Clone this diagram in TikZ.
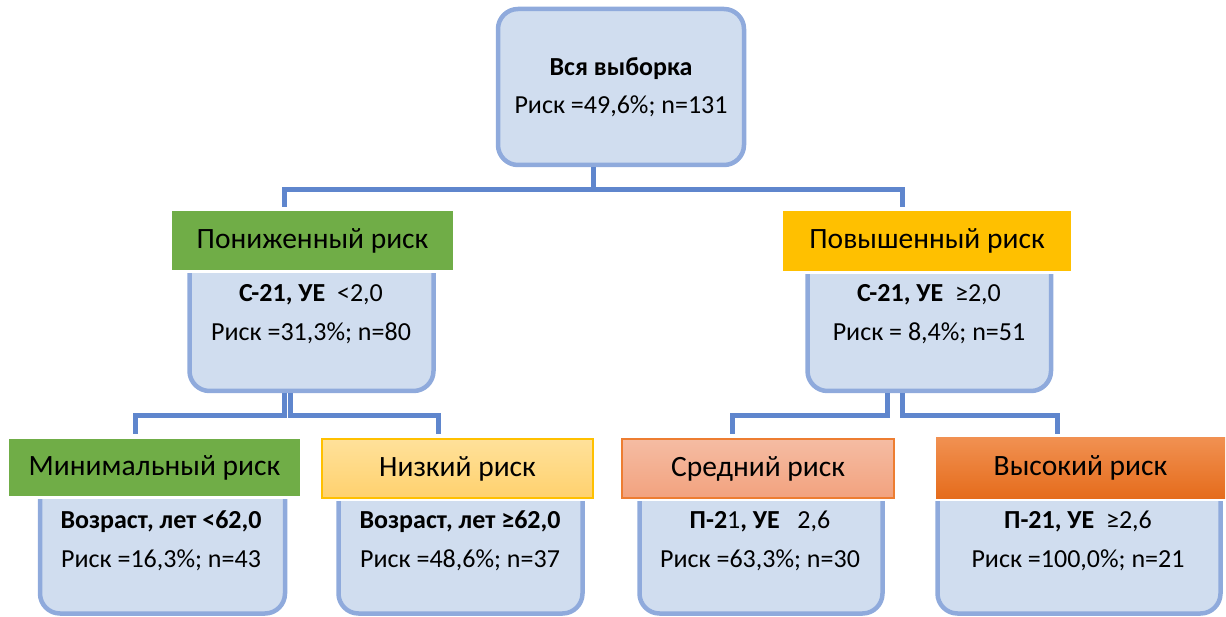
\documentclass[tikz,border=0pt]{standalone}
\usepackage{fontspec}
\setmainfont{Carlito}
\usepackage{tikz}
\usetikzlibrary{positioning}
\definecolor{boxfill}{HTML}{D0DDEF}
\definecolor{boxline}{HTML}{8FAADC}
\definecolor{linkblue}{HTML}{5F86CD}
\definecolor{lowgreen}{HTML}{70AD47}
\definecolor{highyellow}{HTML}{FFC000}
\definecolor{edgeorange}{HTML}{ED7D31}
\definecolor{nizktop}{HTML}{FFE19A}
\definecolor{nizkbot}{HTML}{FFD16E}
\definecolor{sredntop}{HTML}{F5BCA3}
\definecolor{srednbot}{HTML}{F2A27E}
\definecolor{vysoktop}{HTML}{F19152}
\definecolor{vysokbot}{HTML}{E56C1C}
\newcommand{\bodyfont}{\fontsize{26}{38.5}\selectfont}
\newcommand{\labelfont}{\fontsize{29.5}{34}\selectfont}

\begin{document}
\begin{tikzpicture}[x=1pt,y=-1pt,
	riskbox/.style={rectangle, rounded corners=20pt, draw=boxline, fill=boxfill, line width=4.5pt, inner sep=0pt},
	risklabel/.style={rectangle, inner sep=0pt, font=\labelfont, preaction={draw=white, line width=6pt}},
	risktext/.style={align=center, font=\bodyfont, inner sep=0pt},
	link/.style={draw=linkblue, line width=5pt}]
		\useasboundingbox (0,0) rectangle (1226,617);
		%koren
		\node[riskbox, minimum width=246pt, minimum height=156pt] (vsya) at (621,87) {};
		\node[risktext] (vsyatxt) at (vsya.center) {\textbf{Вся выборка}\\Риск =49,6\%; n=131};
		%uroven 2
		\node[riskbox, minimum width=244pt, minimum height=141pt] (ponizhbox) at (311.5,320.5) {};
		\node[riskbox, minimum width=243.5pt, minimum height=141pt] (povyshbox) at (929.25,320.5) {};
		\node[risklabel, fill=lowgreen, minimum width=281pt, minimum height=59pt] (ponizh) at (312.5,240.5) {Пониженный риск};
		\node[risklabel, fill=highyellow, minimum width=288pt, minimum height=60pt] (povysh) at (927,241) {Повышенный риск};
		\node[risktext] (ponizhtxt) at (311,314) {\textbf{С-21, УЕ}\ \ <2,0\\Риск =31,3\%; n=80};
		\node[risktext] (povyshtxt) at (929,314) {\textbf{С-21, УЕ}\ \ ≥2,0\\Риск = 8,4\%; n=51};
		%uroven 3
		\node[riskbox, minimum width=245pt, minimum height=143pt] (minimbox) at (162.5,542) {};
		\node[riskbox, minimum width=244pt, minimum height=143pt] (nizkbox) at (460.5,542) {};
		\node[riskbox, minimum width=243pt, minimum height=143pt] (srednbox) at (761,542) {};
		\node[riskbox, minimum width=283pt, minimum height=143pt] (vysokbox) at (1079,542) {};
		\node[risklabel, fill=lowgreen, minimum width=291pt, minimum height=57pt] (minim) at (154.5,467.5) {Минимальный риск};
		\node[risklabel, top color=nizktop, bottom color=nizkbot, draw=highyellow, line width=1.5pt, minimum width=271pt, minimum height=59pt] (nizk) at (457.5,468.5) {Низкий риск};
		\node[risklabel, top color=sredntop, bottom color=srednbot, draw=edgeorange, line width=1.5pt, minimum width=272pt, minimum height=59pt] (sredn) at (758,468.5) {Средний риск};
		\node[risklabel, top color=vysoktop, bottom color=vysokbot, minimum width=289pt, minimum height=61pt] (vysok) at (1080.5,467.5) {Высокий риск};
		\node[risktext] (minimtxt) at (161,541) {\textbf{Возраст, лет <62,0}\\Риск =16,3\%; n=43};
		\node[risktext] (nizktxt) at (460,541) {\textbf{Возраст, лет ≥62,0}\\Риск =48,6\%; n=37};
		\node[risktext] (sredntxt) at (760,541) {\textbf{П-2}1\textbf{, УЕ}\ \ \ 2,6\\Риск =63,3\%; n=30};
		\node[risktext] (vysoktxt) at (1078,541) {\textbf{П-21, УЕ}\ \ ≥2,6\\Риск =100,0\%; n=21};
		%tochki razvetvleniya
		\coordinate (split0) at (593,190);
		\coordinate (ponizhin) at (284,207);
		\coordinate (povyshin) at (902,207);
		\coordinate (splitla) at (284,415.5);
		\coordinate (splitlb) at (290,415.5);
		\coordinate (minimin) at (135,434);
		\coordinate (nizkin) at (438,434);
		\coordinate (splitra) at (887.5,415.5);
		\coordinate (splitrb) at (902.5,415.5);
		\coordinate (srednin) at (732,434);
		\coordinate (vysokin) at (1057,434);
		%linii
		\draw[link] (vsya.south -| split0) -- (split0) -| (ponizhin);
		\draw[link] (split0) -| (povyshin);
		\draw[link] (ponizhbox.south -| splitla) -- (splitla) -| (minimin);
		\draw[link] (ponizhbox.south -| splitlb) -- (splitlb) -| (nizkin);
		\draw[link] (povyshbox.south -| splitra) -- (splitra) -| (srednin);
		\draw[link] (povyshbox.south -| splitrb) -- (splitrb) -| (vysokin);
	\end{tikzpicture}
\end{document}
